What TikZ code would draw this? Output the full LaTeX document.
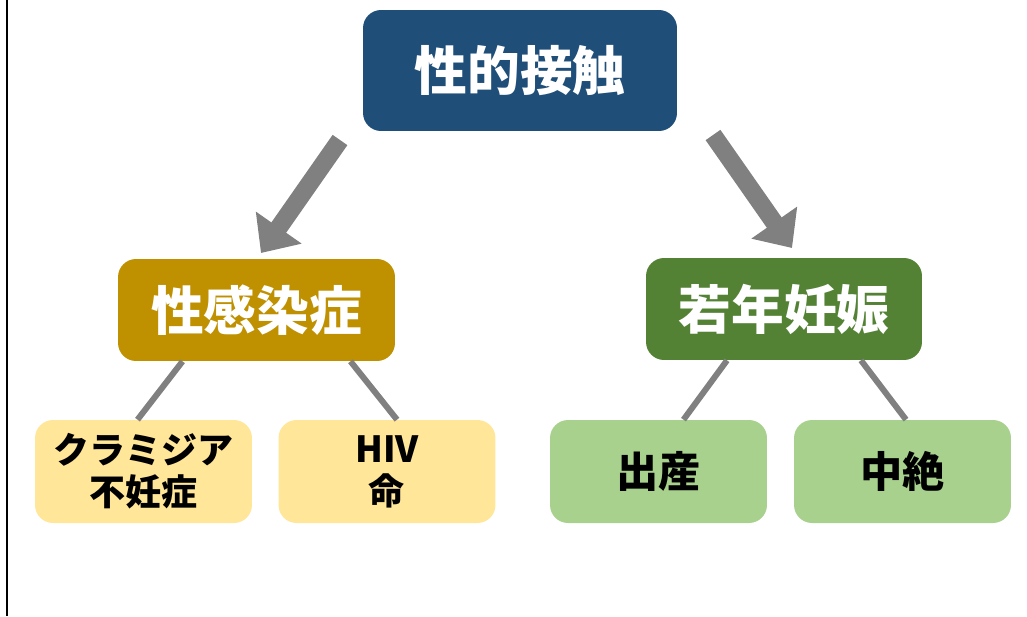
\documentclass[tikz,border=0pt]{standalone}
\usepackage{fontspec}
\setmainfont{Noto Sans CJK JP}
\usetikzlibrary{arrows.meta,positioning}
\definecolor{kouiblue}{HTML}{1F4E79}
\definecolor{stigold}{HTML}{BF9000}
\definecolor{ninshingreen}{HTML}{548235}
\definecolor{lightgold}{HTML}{FFE699}
\definecolor{lightgreen}{HTML}{A9D18E}
\definecolor{linkgray}{HTML}{808080}
\begin{document}
\begin{tikzpicture}[x=0.02cm, y=-0.02cm, line join=round,
    box/.style={rounded corners=0.36cm, inner sep=0pt, align=center},
    bigbox/.style={box, text=white, font=\fontsize{30}{36}\selectfont\bfseries},
    smallbox/.style={box, text=black, minimum width=4.34cm, minimum height=2.06cm,
      font=\fontsize{24}{26}\selectfont\bfseries},
    twoline/.style={font=\fontsize{20.5}{23.8}\selectfont\bfseries},
    bigarrow/.style={draw=linkgray, line width=0.36cm, -{Triangle[width=1.08cm,length=0.62cm]}},
    link/.style={draw=linkgray, line width=0.12cm}]
	\useasboundingbox (0,0) rectangle (1027,616);
	\draw[line width=0.05cm] (7,0) -- (7,616);
	\node[bigbox, fill=kouiblue, minimum width=6.28cm, minimum height=2.42cm] (koui) at (520,70.5) {性的接触};
	\node[bigbox, fill=stigold, minimum width=5.54cm, minimum height=2.04cm] (sti) at (256.5,310) {性感染症};
	\node[bigbox, fill=ninshingreen, minimum width=5.52cm, minimum height=2.04cm] (ninshin) at (784,309) {若年妊娠};
	\node[smallbox, twoline, fill=lightgold] (chlamydia) at (143.5,471.5) {クラミジア\\不妊症};
	\node[smallbox, twoline, fill=lightgold] (hiv) at (387,471.5) {HIV\\命};
	\node[smallbox, fill=lightgreen] (shussan) at (658.5,471.5) {出産};
	\node[smallbox, fill=lightgreen] (chuzetsu) at (902.5,471.5) {中絶};
	\path
	(340,140) coordinate (a1)
	(261,253) coordinate (a2)
	(713,135) coordinate (b1)
	(792,248) coordinate (b2);
	\draw[bigarrow] (a1) -- (a2);
	\draw[bigarrow] (b1) -- (b2);
	\draw[link] ([xshift=-1.48cm]sti.south) -- ([xshift=-0.12cm]chlamydia.north);
	\draw[link] ([xshift=1.88cm]sti.south) -- ([xshift=0.2cm]hiv.north);
	\draw[link] ([xshift=-1.14cm]ninshin.south) -- ([xshift=0.5cm]shussan.north);
	\draw[link] ([xshift=1.54cm]ninshin.south) -- ([xshift=0.07cm]chuzetsu.north);
\end{tikzpicture}
\end{document}
